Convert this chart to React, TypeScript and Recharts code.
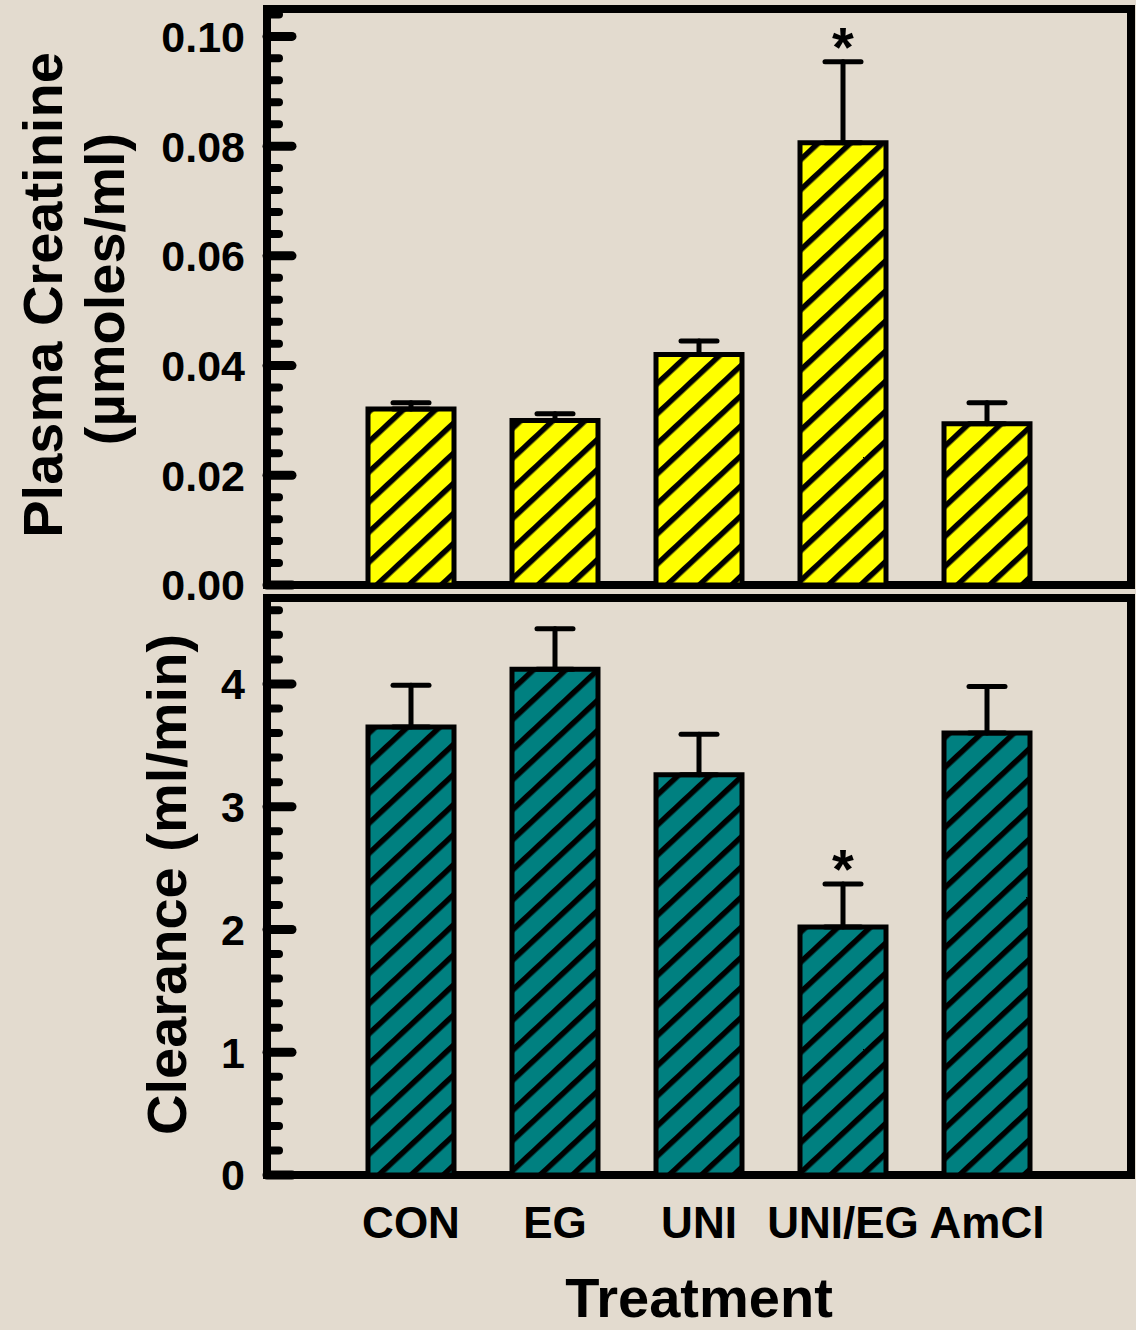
import { BarChart, Bar, XAxis, YAxis, ErrorBar, ReferenceDot, CartesianGrid } from 'recharts';

const categories = ['CON', 'EG', 'UNI', 'UNI/EG', 'AmCl'];
const creatinine = [0.0321, 0.03, 0.042, 0.0806, 0.0294];
const creatinineSem = [0.0011, 0.0012, 0.0025, 0.0148, 0.0038];
const clearance = [3.65, 4.12, 3.26, 2.02, 3.6];
const clearanceSem = [0.34, 0.33, 0.33, 0.35, 0.38];
const significant = ['', '', '', '*', ''];

const creatinineTickLabels = ['0.00', '0.02', '0.04', '0.06', '0.08', '0.10'];
const clearanceTickLabels = ['0', '1', '2', '3', '4'];
// minor ticks every 0.004 / 0.2, every 5th one is labelled
const creatinineTicks = Array.from({ length: 27 }, (_, i) => i * 0.004);
const clearanceTicks = Array.from({ length: 24 }, (_, i) => i * 0.2);

const FONT = '"Liberation Sans", Arial, sans-serif';

const creatinineData = categories.map((name, i) => ({
  name,
  value: creatinine[i],
  err: [0, creatinineSem[i]],
}));
const clearanceData = categories.map((name, i) => ({
  name,
  value: clearance[i],
  err: [0, clearanceSem[i]],
}));

// box around the plot area, taken from the chart offset
const frameRows = ({ offset }: any) => [offset.top, offset.top + offset.height];
const frameCols = ({ offset }: any) => [offset.left, offset.left + offset.width];

function Hatch({ id, color }: { id: string; color: string }) {
  return (
    <pattern id={id} patternUnits="userSpaceOnUse" width={22} height={22} patternTransform="rotate(47)">
      <rect width={22} height={22} fill={color} />
      <rect width={5.5} height={22} fill="#000" />
    </pattern>
  );
}

function makeTick(labels: string[]) {
  return function YTick(props: any) {
    const { x, y, index } = props;
    const major = index % 5 === 0;
    const ax = x + 22;
    return (
      <g>
        <line
          x1={ax}
          y1={y}
          x2={ax + (major ? 25 : 12)}
          y2={y}
          stroke="#000"
          strokeWidth={major ? 9 : 8}
          strokeLinecap="round"
        />
        {major && (
          <text x={x} y={y} dy="0.36em" textAnchor="end" fontSize={43} fontWeight="bold" fontFamily={FONT} fill="#000">
            {labels[index / 5]}
          </text>
        )}
      </g>
    );
  };
}

function AxisTitle(props: any) {
  const { viewBox, lines, baselines, shifts } = props;
  const cy = viewBox.y + viewBox.height / 2;
  return (
    <g>
      {lines.map((t: string, i: number) => {
        const x = baselines[i];
        const y = cy + shifts[i];
        return (
          <text
            key={t}
            x={x}
            y={y}
            transform={`rotate(-90, ${x}, ${y})`}
            textAnchor="middle"
            fontSize={56}
            fontWeight="bold"
            fontFamily={FONT}
            fill="#000"
          >
            {t}
          </text>
        );
      })}
    </g>
  );
}

const starLabel = (offset: number) => ({
  value: '*',
  position: 'top' as const,
  offset,
  fontSize: 56,
  fontWeight: 'bold',
  fontFamily: FONT,
  fill: '#000',
});

export default function App() {
  return (
    <div
      style={{
        position: 'absolute',
        left: 0,
        top: 0,
        width: 1136,
        height: 1330,
        background: '#e3dbcf',
        fontFamily: FONT,
      }}
    >
      <div style={{ position: 'absolute', left: 0, top: 0 }}>
        <BarChart width={1136} height={620} data={creatinineData} margin={{ top: 9, right: 5, left: 0, bottom: 35 }}>
          <defs>
            <Hatch id="hatchYellow" color="#ffff00" />
          </defs>
          <CartesianGrid
            stroke="#000"
            strokeWidth={8}
            strokeLinecap="square"
            horizontalCoordinatesGenerator={frameRows}
            verticalCoordinatesGenerator={frameCols}
          />
          <XAxis dataKey="name" padding={{ left: 72, right: 72 }} tick={false} tickLine={false} height={0} axisLine={false} />
          <YAxis
            domain={[0, 0.105]}
            ticks={creatinineTicks}
            interval={0}
            width={267}
            tickSize={0}
            tickMargin={22}
            tickLine={false}
            tick={makeTick(creatinineTickLabels)}
            axisLine={false}
            label={
              <AxisTitle lines={['Plasma Creatinine', '(µmoles/ml)']} baselines={[62, 124]} shifts={[-2, -8]} />
            }
          />
          <Bar dataKey="value" fill="url(#hatchYellow)" stroke="#000" strokeWidth={5} barSize={86} isAnimationActive={false}>
            <ErrorBar dataKey="err" direction="y" width={18} stroke="#000" strokeWidth={5} strokeLinecap="round" />
          </Bar>
          {significant.map((s, i) =>
            s ? (
              <ReferenceDot
                key={i}
                x={categories[i]}
                y={creatinine[i] + creatinineSem[i]}
                r={1}
                fill="none"
                stroke="none"
                label={starLabel(-5)}
              />
            ) : null,
          )}
        </BarChart>
      </div>
      <div style={{ position: 'absolute', left: 0, top: 592 }}>
        <BarChart width={1136} height={738} data={clearanceData} margin={{ top: 6, right: 5, left: 0, bottom: 0 }}>
          <defs>
            <Hatch id="hatchTeal" color="#008080" />
          </defs>
          <CartesianGrid
            stroke="#000"
            strokeWidth={8}
            strokeLinecap="square"
            horizontalCoordinatesGenerator={frameRows}
            verticalCoordinatesGenerator={frameCols}
          />
          <XAxis
            dataKey="name"
            padding={{ left: 72, right: 72 }}
            height={155}
            interval={0}
            tickLine={false}
            tickSize={0}
            tickMargin={32}
            tick={{ fontSize: 44, fontWeight: 'bold', fill: '#000', fontFamily: FONT }}
            axisLine={false}
            label={{
              value: 'Treatment',
              position: 'insideBottom',
              offset: 13,
              fontSize: 56,
              fontWeight: 'bold',
              fill: '#000',
              fontFamily: FONT,
            }}
          />
          <YAxis
            domain={[0, 4.7]}
            ticks={clearanceTicks}
            interval={0}
            width={267}
            tickSize={0}
            tickMargin={22}
            tickLine={false}
            tick={makeTick(clearanceTickLabels)}
            axisLine={false}
            label={<AxisTitle lines={['Clearance (ml/min)']} baselines={[186]} shifts={[-2]} />}
          />
          <Bar dataKey="value" fill="url(#hatchTeal)" stroke="#000" strokeWidth={5} barSize={86} isAnimationActive={false}>
            <ErrorBar dataKey="err" direction="y" width={18} stroke="#000" strokeWidth={5} strokeLinecap="round" />
          </Bar>
          {significant.map((s, i) =>
            s ? (
              <ReferenceDot
                key={i}
                x={categories[i]}
                y={clearance[i] + clearanceSem[i]}
                r={1}
                fill="none"
                stroke="none"
                label={starLabel(-5)}
              />
            ) : null,
          )}
        </BarChart>
      </div>
    </div>
  );
}
